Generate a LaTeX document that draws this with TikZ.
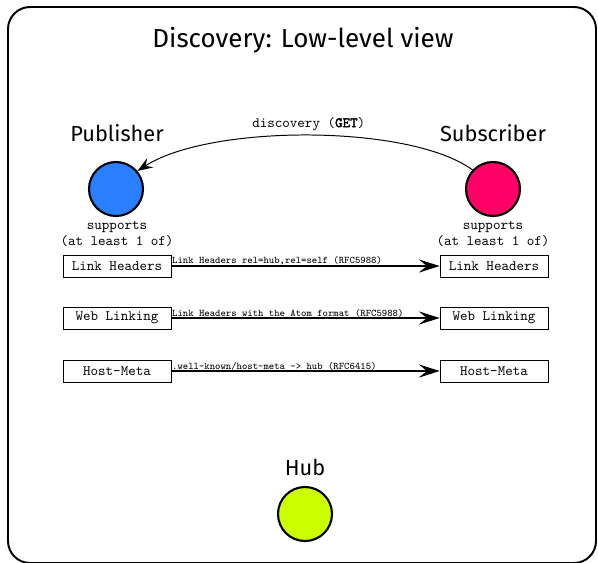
\documentclass[tikz,border=0pt]{standalone}
\usepackage{fontspec}
\setmainfont{Fira Sans}
\newfontfamily\boldtt{Latin Modern Mono}[FakeBold=2.5]
\usetikzlibrary{arrows.meta}
\definecolor{pubblue}{HTML}{2A7FFF}
\definecolor{subpink}{HTML}{FF0066}
\definecolor{hubgreen}{HTML}{CCFF00}

\begin{document}
\begin{tikzpicture}[x=0.025cm, y=-0.025cm,
  actor/.style={circle, draw, line width=1.5pt, minimum size=1.35cm, inner sep=0pt},
  rolename/.style={font=\fontsize{15.5}{18}\selectfont},
  method/.style={draw, line width=0.5pt, minimum width=2.7cm, minimum height=0.55cm, inner sep=0pt, font=\ttfamily\fontsize{10.2}{11}\selectfont},
  note/.style={font=\ttfamily\fontsize{10.2}{11.5}\selectfont, align=center},
  hint/.style={font=\ttfamily\fontsize{7.2}{8}\selectfont, anchor=south west, inner sep=0.4pt},
  link/.style={-{Stealth[length=5.2mm, width=3.3mm, inset=2mm]}, line width=0.9pt}
]
\useasboundingbox (0,0) rectangle (598,562);
\draw[line width=1.4pt, rounded corners=0.55cm] (8,7) rectangle (596,563);

\node[font=\fontsize{18.5}{22}\selectfont] (title) at (303,40) {Discovery: Low-level view};

% actors
\node[rolename] (publabel) at (117,133) {Publisher};
\node[actor, fill=pubblue] (pub) at (116,189) {};
\node[note] (pubnote) at (117,234) {supports\\(at least 1 of)};

\node[rolename] (sublabel) at (493,133) {Subscriber};
\node[actor, fill=subpink] (sub) at (493,189) {};
\node[note] (subnote) at (493,234) {supports\\(at least 1 of)};

\node[rolename] (hublabel) at (305,467) {Hub};
\node[actor, fill=hubgreen] (hub) at (305,514) {};

% discovery request
\draw[-{Stealth[length=3.8mm, width=2.8mm, inset=1.4mm]}, line width=0.7pt] (sub.137) .. controls (410,124) and (210,124) .. node[note, above=0pt] (disc) {discovery ({\boldtt GET})} (pub.40);

% methods
\node[method] (plink) at (117,266) {Link Headers};
\node[method] (slink) at (494,266) {Link Headers};
\node[method] (pweb) at (117,318) {Web Linking};
\node[method] (sweb) at (494,318) {Web Linking};
\node[method] (phost) at (117,371) {Host-Meta};
\node[method] (shost) at (494,371) {Host-Meta};

\draw[link] (plink.east) -- (slink.west);
\draw[link] (pweb.east) -- (sweb.west);
\draw[link] (phost.east) -- (shost.west);
\node[hint] at (plink.east) {Link Headers rel=hub,rel=self (RFC5988)};
\node[hint] at (pweb.east) {Link Headers with the Atom format (RFC5988)};
\node[hint] at (phost.east) {.well-known/host-meta -> hub (RFC6415)};
\end{tikzpicture}
\end{document}
